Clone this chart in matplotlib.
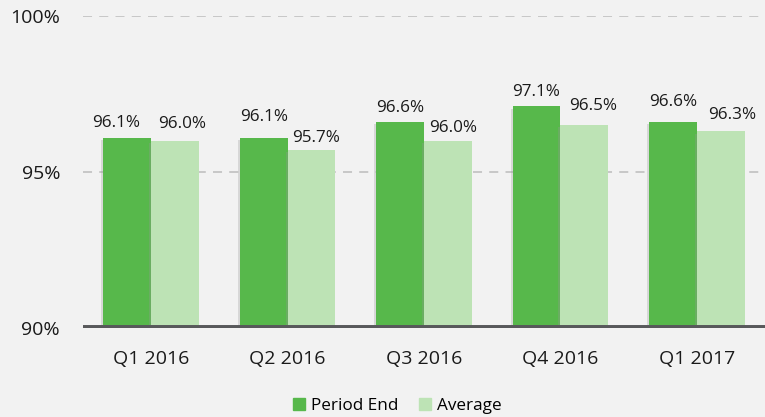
import matplotlib
matplotlib.use("Agg")
import matplotlib.pyplot as plt
import numpy as np
from matplotlib import patheffects as pe
from matplotlib.patches import Rectangle

categories = ["Q1 2016", "Q2 2016", "Q3 2016", "Q4 2016", "Q1 2017"]
period_end = [96.1, 96.1, 96.6, 97.1, 96.6]
average = [96.0, 95.7, 96.0, 96.5, 96.3]
yticks = [90, 95, 100]
ytick_labels = ["90%", "95%", "100%"]

# label placement nudges in pixels (dx, gap above bar top to baseline)
pe_label_dx = [-11, 0, 0, 0, 0]
pe_label_gap = [11, 17, 10, 10, 16]
av_label_dx = [7, 5, 5, 9, 12]
av_label_gap = [13, 8, 9, 15, 12]

plt.rcParams['font.family'] = ['Open Sans', 'DejaVu Sans']
bg = "#f2f2f2"
dark = "#57b84b"
light = "#bde3b5"
txt = "#1a1a1a"
PX = 72 / 100

fig = plt.figure(figsize=(7.65, 4.17), dpi=100, facecolor=bg)
ax = fig.add_axes([83/765, 1-328/417, 1-83/765, (328-16)/417], facecolor=bg)

x = np.arange(len(categories))
w = 0.35
shadow = [pe.SimplePatchShadow(offset=(-1.5, -1.5), shadow_rgbFace="#999999", alpha=0.3), pe.Normal()]
b1 = ax.bar(x - w/2, np.array(period_end) - 90, w, bottom=90, color=dark, label="Period End", zorder=3, path_effects=shadow)
b2 = ax.bar(x + w/2, np.array(average) - 90, w, bottom=90, color=light, label="Average", zorder=3, path_effects=shadow)

for xi, v, dx, g in zip(x - w/2, period_end, pe_label_dx, pe_label_gap):
    ax.annotate(f"{v:.1f}%", (xi, v), xytext=(dx*PX, g*PX), textcoords="offset points",
                ha="center", va="baseline", fontsize=12.3, color=txt)
for xi, v, dx, g in zip(x + w/2, average, av_label_dx, av_label_gap):
    ax.annotate(f"{v:.1f}%", (xi, v), xytext=(dx*PX, g*PX), textcoords="offset points",
                ha="center", va="baseline", fontsize=12.3, color=txt)

ax.set_xlim(-0.5, 4.5)
ax.set_ylim(90, 100)
ax.set_yticks(yticks)
ax.set_yticklabels(ytick_labels, fontsize=14, color=txt)
ax.set_xticks(x)
ax.set_xticklabels(categories, fontsize=14, color=txt)
ax.tick_params(axis="both", length=0)
ax.tick_params(axis="y", pad=16.5)
ax.tick_params(axis="x", pad=16)

for gy in [95, 100]:
    ax.axhline(gy, color="#c4c4c4", lw=1.3, ls=(0, (5, 4)), zorder=1)
ax.axhline(90, color="#58595b", lw=5, zorder=4)

for s in ax.spines.values():
    s.set_visible(False)

h1 = Rectangle((0, 0), 1, 1, color=dark)
h2 = Rectangle((0, 0), 1, 1, color=light)
leg = fig.legend(handles=[h1, h2], labels=["Period End", "Average"], loc="lower center",
                 bbox_to_anchor=(0.5 + 15/765, -0.03), ncol=2, frameon=False, fontsize=12.3,
                 handlelength=0.7, handleheight=0.7, handletextpad=0.35, columnspacing=1.2)

fig.savefig("out.png", dpi=100, facecolor=bg)
